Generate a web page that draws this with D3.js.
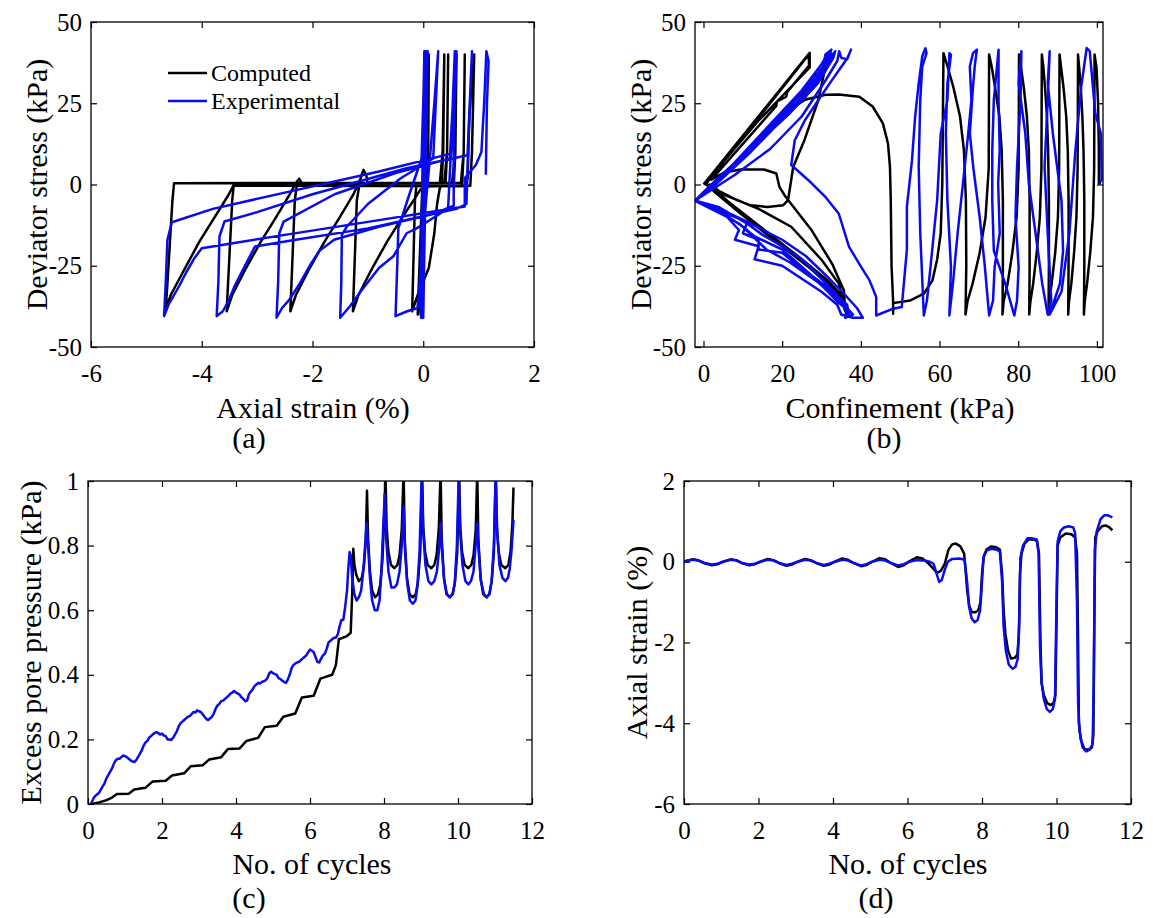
<!DOCTYPE html>
<meta charset="utf-8">
<head>
<meta charset="utf-8">
<script src="https://d3js.org/d3.v7.min.js"></script>
<style>
  body { margin: 0; background: #fff; }
  text { font-family: "Liberation Serif", "DejaVu Serif", serif; fill: #000; }
  .tick text { font-size: 25px; }
  .tick line { stroke: #000; stroke-width: 1.2; }
  .ttl { font-size: 30px; }
</style>
</head>
<body>
<svg id="fig" width="1153" height="918"></svg>
<script>

// ---------- (a) deviator stress vs axial strain ----------
var aComputed = [
  [0,0],[0.02,40],[-0.03,-39],[0.04,40],[-0.06,-39],[0.07,40],[-0.1,-40],[0.1,40],
  [0.09,10],[0.05,0.5],[-0.12,0.3],[-0.15,-5],[-0.2,-39],[-0.1,-34],[0.1,-25.7],[0.2,-15],[0.25,-6],[0.3,-1],[0.33,-0.5],[0.36,10],[0.38,40],
  [0.35,10],[0.3,0.5],[-1.15,0.3],[-1.2,-5],[-1.27,-39],[-1.17,-34],[-0.92,-25.7],[-0.65,-17.5],[-0.39,-10.4],[-0.16,-4.5],[-0.05,-1.5],[0.1,-0.6],[0.4,-0.5],[0.43,10],[0.45,40],
  [0.43,10],[0.38,0.5],[-2.28,0.3],[-2.32,-5],[-2.4,-39],[-2.3,-34],[-2.05,-25.7],[-1.78,-17.5],[-1.52,-10.4],[-1.27,-3.3],[-1.15,1],[-1.08,4.5],[-1.03,3],[-1.0,-0.3],[0.55,-0.5],[0.58,10],[0.6,40],
  [0.58,10],[0.52,0.5],[-3.42,0.3],[-3.45,-5],[-3.55,-39],[-3.45,-34],[-3.2,-25.7],[-2.93,-17.5],[-2.67,-10.4],[-2.42,-3.3],[-2.3,0.5],[-2.24,1.8],[-2.2,0.5],[-2.15,-0.4],[0.7,-0.5],[0.73,10],[0.75,40],
  [0.73,10],[0.68,0.5],[-4.5,0.4],[-4.53,-5],[-4.6,-25],[-4.65,-38.5],[-4.56,-34],[-4.3,-25.7],[-4.04,-17.5],[-3.78,-10.4],[-3.52,-3.3],[-3.42,0],[-3.35,-0.4],[0.85,-0.4],[0.88,10],[0.92,40],[0.86,28],[0.83,20],[0.8,1.5]
];
var aExperimental = [
  [0,0],[0.03,41],[-0.02,-40],[0.05,41],[-0.04,-41],[0.06,40],[-0.03,-41],[0.02,41],[-0.05,-40],[0.08,41],[0.0,-41],[0.04,41],
  [0.0,25],[-0.03,8],[-0.25,-3],[-0.45,-13.5],[-0.47,-25],[-0.5,-40.5],[-0.29,-39],[-0.1,-38],[-0.02,-20],[0.05,-5],[0.12,8],[0.2,25],[0.27,41],
  [0.24,30],[0.18,8],[-0.4,2],[-1.0,-6],[-1.38,-13],[-1.47,-15.5],[-1.48,-30],[-1.5,-41],[-1.32,-37.4],[-1.13,-32.9],[-0.8,-25.7],[-0.54,-22.1],[-0.3,-15],[-0.12,-13.5],[0.3,-9],[0.45,-7],[0.5,10],[0.54,28],[0.57,41],
  [0.55,30],[0.48,8],[-0.5,3.5],[-1.6,-3],[-2.52,-11.4],[-2.6,-15],[-2.62,-30],[-2.65,-41],[-2.55,-38],[-2.42,-35.5],[-2.25,-31],[-2.05,-25],[-1.88,-20.5],[-1.61,-17],[-0.8,-13],[0.2,-9],[0.6,-7.5],[0.78,-6],[0.82,15],[0.86,32],[0.88,41],
  [0.86,33],[0.8,9],[-0.3,5],[-2,-3],[-3.0,-8.5],[-3.59,-11.4],[-3.68,-16],[-3.7,-30],[-3.73,-40.5],[-3.62,-39],[-3.52,-36],[-3.4,-31],[-3.25,-26],[-3.04,-19.1],[-2.3,-17],[-1,-13.5],[0.2,-9],[0.55,-6.5],[0.55,10],[0.57,30],[0.6,41],
  [0.58,30],[0.5,9.5],[-0.8,4],[-2.5,-2.5],[-3.8,-7.5],[-4.54,-11.6],[-4.62,-17],[-4.65,-30],[-4.68,-40.5],[-4.6,-37],[-4.5,-34],[-4.4,-31],[-4.28,-27],[-4.13,-22.6],[-4.0,-19.6],[-2.5,-15.5],[-1.0,-11.5],[0.3,-8],[0.75,-6.8],[0.75,2],[0.95,6],[1.05,10],[1.1,25],[1.14,41],[1.18,38],[1.15,25],[1.13,3]
];

// ---------- (b) deviator stress vs confinement ----------
var bComputed = [
  [0,0],[27,40.5],[27,36],[13.5,19],[0.5,0.5],
  [3,-2.5],[9.4,-8.9],[18,-17.2],[26.7,-25.4],[32.7,-31.6],[35.5,-35.5],[36.2,-39.5],
  [34.4,-30.5],[30.1,-23.3],[22.3,-13],[14,-7.5],[5,-3],[0.5,0],
  [26.8,40],[26.8,36.5],[21.3,28.5],[21,27],[18.7,25.6],[18.5,24.2],[2,1.5],
  [5.1,3.6],[9.4,4.6],[15.4,4.6],[18.5,3.4],[19.3,-0.7],[20.6,-3.3],[21.5,-4.8],[20.2,-6.4],[16.3,-6.9],[12,-6.4],[8.5,-4.8],[4,-2],[1.5,0],
  [6,-5],[15,-13.5],[25,-23],[32,-30],[35,-34],[36,-39],
  [35.7,-32.6],[32.7,-24.4],[27.5,-14.1],[21.5,-4.8],[22.8,5.4],[25.7,13.8],[29.2,26],[31,36.3],[31.5,40],
  [31.2,37],[27,30],[23.5,25],[20.6,21.9],[25.8,26.1],[31,27.6],[34.4,27.7],[39.6,27],[43,24],[45.6,18.8],[46.9,12.6],[47.4,5.4],[47.6,-4.8],[47.8,-25],[48.2,-36],[48.2,-39.8],[48.2,-36.5],
  [52.5,-35.7],[56,-33.6],[58.2,-29.5],[59.4,-23],[60.3,-15],[60.7,0.3],[61,40.4],
  [62.1,36],[63.5,30],[65.2,21],[66.2,10.5],[66.7,-5],[66.8,-25],[66.6,-40],
  [67.1,-36],[68.4,-30.5],[70.2,-21],[71.7,-10],[72.5,5],[72.6,40],
  [73.3,36],[74.1,30],[75.2,21],[75.8,10.5],[76.1,-5],[76.1,-25],[76,-40],
  [76.3,-36],[77.3,-30.5],[78.5,-21],[79.6,-10],[80.1,5],[80.2,40],
  [80.7,36],[81.4,30],[82.2,21],[82.7,10.5],[82.9,-5],[82.9,-25],[82.8,-40],
  [83.1,-36],[83.8,-30.5],[84.7,-21],[85.5,-10],[85.9,5],[86,40],
  [86.4,36],[86.8,30],[87.3,21],[87.6,10.5],[87.8,-5],[87.8,-25],[87.7,-40],
  [87.9,-36],[88.5,-30.5],[89.4,-21],[90.1,-10],[90.4,5],[90.5,40],
  [90.9,36],[91.5,30],[92.2,21],[92.6,10.5],[92.8,-5],[92.8,-25],[92.7,-40],
  [92.9,-36],[93.5,-30.5],[94.2,-21],[94.8,-10],[95.1,5],[95.2,40],
  [95.5,36],[95.9,30],[96.3,21],[96.6,10.5],[96.8,-5],[96.8,-25],[96.7,-40],
  [96.9,-36],[97.5,-30.5],[98.3,-21],[99,-10],[99.3,5],[99.4,40],
  [99.9,36],[100.3,25],[100.5,10],[100.5,0.3],[101,0.5]
];
var bExperimental = [
  [-2.2,-5],[5,3],[15,16],[25,29],[30,37],[32,41],[32.5,40],[29,33],[20,22],[10,9],[2,0],[-2.2,-5],
  [5,-8.5],[10,-11],[15,-15.5],[20,-19],[25,-23],[30,-29],[34,-34],[36,-38.5],[37,-40],[36.5,-37],[33,-33],[28,-28.5],[20,-20],[13,-16],[9,-12],[3,-8],[-2.2,-5],
  [6,4],[14,13],[22,22],[29,31],[33,39],[33.5,41],[32.8,40],[30,34],[26,27],[20,20],[12,10],[4,1],[-2,-5],
  [4,-7],[11,-12],[10,-15],[14,-17],[14,-20],[20,-21],[25,-26],[30,-31],[34,-36],[37,-39],[36,-41],[38,-40],[35,-36],[29,-30],[22,-24],[16,-20],[10,-13],[4,-8],[-2.2,-5],
  [4,2],[12,11],[20,21],[26,28],[30,34],[31,40],[32.5,41.5],[31.5,38],[27,31],[18,19],[9,7],[1,-2],[-2.2,-5],
  [6,-10],[9,-14],[8,-17],[14,-19],[13,-23],[20,-25],[25,-29],[30,-33],[34,-37],[35,-40],[38,-41],[40.5,-41],[39,-38],[36,-34],[32,-29],[26,-22],[20,-17],[12,-12],[5,-8],[-2.2,-5],
  [8,3],[17,11],[25,21],[31,32],[34,38],[34.5,41],[35,39],[36.5,38.5],[37.5,41.5],
  [36.6,38.9],[32.7,32.2],[29.2,26],[25.8,19.8],[23.2,13.6],[22.3,6],[26.6,1.4],[30.9,-3.7],[34.4,-9],[37,-19.2],[39.6,-24.4],[42.2,-29.5],[43.9,-34.6],[43.9,-40.3],[48.2,-38.2],[50.4,-37.7],
  [51.7,-20],[51.7,-6.9],[53,7.5],[53.8,20.9],[54.7,31],[55.6,39.4],[56.4,41.9],[56.7,40.4],[55.6,36.3],[55.1,26],[54.7,5.4],[55.1,-15],[56,-40.3],
  [56.8,-35.7],[57.7,-25.4],[59.4,-4.8],[60.3,15.7],[62,26],[62.5,40.4],[62.9,39.9],[62,31.2],[61.6,15.7],[62,-4.8],[62.9,-25.4],[62.5,-40.3],
  [63.4,-30.5],[64.6,-15],[66.4,5.4],[67.3,15.7],[68.1,26],[67.7,36.3],[68.5,40.4],[69.5,41.5],[69,37],[68.5,30],[67.7,15.7],[68.6,5],[70.2,-10],[71.5,-25],[72.6,-40.3],
  [73.6,-35.7],[74,-25.4],[75.3,-15],[74.9,0.3],[75.3,10.5],[75,26],[75,41.5],[74.6,36.3],[73.8,26],[73.4,10.5],[73.4,-5],[73.8,-20.4],[76.7,-30.5],[79,-40.3],
  [79.7,-35.7],[80.1,-25.4],[79.3,-10],[79.7,5.4],[80.6,26],[80.8,41],[80.1,31.2],[81.8,15.7],[82.7,0.3],[84.4,-15],[86.1,-30.5],[87.5,-40],
  [88.4,-35.7],[87.5,-15],[86.7,5.4],[87.5,26],[88,41],[87.5,31.2],[88.8,15.7],[91,-5],[91.4,-20.4],[90.6,-30.5],[88,-40],
  [91,-33],[93,-15],[94.5,10],[96,30],[97.4,42],[98.2,41],[98.3,39.4],[99.6,21.9],[101,15.7],[101.2,1.5],[100.6,0.3]
];

// ---------- (c) excess pore pressure vs cycles ----------
var cComputed = [
  [0.1,0],[0.3,0.005],[0.5,0.012],[0.65,0.02],[0.78,0.031],[1.1,0.032],[1.25,0.045],[1.55,0.05],[1.75,0.07],[2.1,0.072],
  [2.27,0.088],[2.6,0.095],[2.78,0.117],[3.1,0.12],[3.28,0.138],[3.6,0.145],[3.78,0.17],[4.1,0.172],[4.28,0.195],[4.6,0.205],
  [4.78,0.238],[5.1,0.242],[5.28,0.27],[5.6,0.28],[5.78,0.33],[6.1,0.335],[6.28,0.388],[6.6,0.4],[6.7,0.43],[6.78,0.51],[7.0,0.52],
  [7.1,0.53],[7.14,0.65],[7.17,0.79],[7.2,0.74],[7.25,0.71],[7.32,0.69],[7.4,0.7],[7.46,0.74],[7.51,0.82],[7.54,0.97],
  [7.57,0.82],[7.62,0.72],[7.68,0.66],[7.76,0.64],[7.84,0.65],[7.9,0.68],[7.96,0.76],[8.01,0.9],[8.04,1.03],
  [8.07,0.86],[8.12,0.78],[8.19,0.74],[8.28,0.73],[8.36,0.74],[8.42,0.77],[8.48,0.85],[8.53,1.03],
  [8.56,0.82],[8.62,0.7],[8.69,0.65],[8.78,0.64],[8.86,0.65],[8.92,0.69],[8.98,0.78],[9.03,1.03],
  [9.06,0.86],[9.11,0.78],[9.18,0.74],[9.28,0.73],[9.36,0.74],[9.42,0.77],[9.48,0.85],[9.53,1.03],
  [9.56,0.82],[9.62,0.7],[9.69,0.65],[9.78,0.64],[9.86,0.65],[9.92,0.69],[9.98,0.78],[10.03,1.03],
  [10.06,0.86],[10.11,0.78],[10.18,0.74],[10.28,0.73],[10.36,0.74],[10.42,0.77],[10.48,0.85],[10.52,1.03],
  [10.55,0.82],[10.61,0.7],[10.68,0.65],[10.77,0.64],[10.85,0.65],[10.91,0.69],[10.97,0.78],[11.02,1.03],
  [11.05,0.86],[11.1,0.78],[11.17,0.74],[11.28,0.73],[11.36,0.74],[11.42,0.78],[11.47,0.87],[11.5,0.98]
];
var cExperimental = [
  [0.08,0],[0.12,0.01],[0.16,0.02],[0.2,0.025],[0.25,0.03],[0.3,0.035],[0.35,0.045],[0.4,0.055],[0.45,0.065],[0.5,0.08],
  [0.55,0.09],[0.6,0.1],[0.65,0.11],[0.7,0.125],[0.75,0.135],[0.8,0.14],[0.85,0.14],[0.9,0.145],[0.95,0.15],[1.0,0.148],
  [1.05,0.145],[1.1,0.14],[1.15,0.135],[1.2,0.132],[1.25,0.13],[1.3,0.135],[1.35,0.145],[1.4,0.155],[1.45,0.165],[1.5,0.18],
  [1.55,0.19],[1.6,0.195],[1.65,0.205],[1.7,0.21],[1.75,0.215],[1.8,0.22],[1.85,0.222],[1.9,0.22],[1.95,0.215],[2.0,0.218],
  [2.05,0.212],[2.1,0.21],[2.15,0.2],[2.2,0.2],[2.25,0.198],[2.3,0.205],[2.35,0.215],[2.4,0.225],[2.45,0.24],[2.5,0.25],
  [2.55,0.255],[2.6,0.26],[2.65,0.265],[2.7,0.27],[2.75,0.272],[2.8,0.278],[2.85,0.285],[2.9,0.283],[2.95,0.29],[3.0,0.287],
  [3.05,0.285],[3.1,0.278],[3.15,0.27],[3.2,0.263],[3.25,0.26],[3.3,0.265],[3.35,0.27],[3.4,0.28],[3.45,0.295],[3.5,0.305],
  [3.55,0.31],[3.6,0.318],[3.65,0.32],[3.7,0.325],[3.75,0.33],[3.8,0.335],[3.85,0.342],[3.9,0.345],[3.95,0.35],[4.0,0.345],
  [4.05,0.342],[4.1,0.338],[4.15,0.33],[4.2,0.325],[4.25,0.318],[4.3,0.32],[4.35,0.34],[4.4,0.348],[4.45,0.355],[4.5,0.365],
  [4.55,0.37],[4.6,0.375],[4.65,0.373],[4.7,0.378],[4.75,0.38],[4.8,0.383],[4.85,0.39],[4.9,0.405],[4.95,0.41],[5.0,0.405],
  [5.05,0.402],[5.1,0.4],[5.15,0.39],[5.2,0.387],[5.25,0.382],[5.3,0.378],[5.35,0.375],[5.4,0.385],[5.45,0.4],[5.5,0.42],
  [5.55,0.43],[5.6,0.435],[5.65,0.438],[5.7,0.44],[5.75,0.445],[5.8,0.45],[5.85,0.455],[5.9,0.46],[5.95,0.47],[6.0,0.478],
  [6.05,0.475],[6.1,0.47],[6.15,0.455],[6.2,0.44],[6.25,0.438],[6.3,0.45],[6.35,0.46],[6.4,0.465],[6.45,0.48],[6.5,0.5],
  [6.55,0.505],[6.6,0.51],[6.65,0.515],[6.7,0.515],[6.75,0.525],[6.8,0.55],[6.85,0.57],[6.9,0.57],[6.95,0.61],[7.0,0.66],
  [7.03,0.72],[7.07,0.78],[7.1,0.77],[7.14,0.7],[7.2,0.65],[7.26,0.63],[7.32,0.64],[7.38,0.66],[7.44,0.72],[7.49,0.8],[7.53,0.87],
  [7.57,0.8],[7.62,0.7],[7.68,0.63],[7.75,0.6],[7.82,0.6],[7.88,0.63],[7.93,0.72],[7.98,0.86],[8.02,0.96],
  [8.06,0.82],[8.12,0.72],[8.2,0.67],[8.28,0.67],[8.35,0.68],[8.42,0.72],[8.48,0.8],[8.53,0.92],
  [8.57,0.78],[8.63,0.68],[8.7,0.63],[8.78,0.62],[8.85,0.63],[8.9,0.67],[8.96,0.78],[9.02,1.02],
  [9.06,0.84],[9.12,0.74],[9.2,0.69],[9.28,0.68],[9.36,0.69],[9.43,0.72],[9.49,0.79],[9.53,0.87],
  [9.57,0.78],[9.63,0.69],[9.7,0.65],[9.78,0.64],[9.85,0.65],[9.91,0.68],[9.97,0.8],[10.02,1.02],
  [10.06,0.84],[10.12,0.74],[10.2,0.69],[10.28,0.68],[10.35,0.69],[10.42,0.72],[10.47,0.79],[10.52,0.87],
  [10.56,0.78],[10.62,0.69],[10.7,0.65],[10.78,0.64],[10.85,0.65],[10.91,0.69],[10.97,0.8],[11.02,1.02],
  [11.06,0.84],[11.12,0.74],[11.2,0.7],[11.28,0.69],[11.35,0.7],[11.4,0.73],[11.45,0.79],[11.5,0.88]
];

// ---------- (d) axial strain vs cycles ----------
var dComputed = [
  [0,0],[0.1,0.03],[0.25,0.06],[0.4,0.03],[0.55,-0.04],[0.75,-0.09],[0.9,-0.06],[1.05,0.0],[1.25,0.06],[1.4,0.04],
  [1.55,-0.03],[1.75,-0.09],[1.9,-0.06],[2.05,0.0],[2.25,0.07],[2.4,0.04],[2.55,-0.03],[2.75,-0.1],[2.9,-0.07],[3.05,0.0],
  [3.25,0.07],[3.4,0.04],[3.55,-0.03],[3.75,-0.1],[3.9,-0.07],[4.05,0.0],[4.25,0.08],[4.4,0.05],[4.55,-0.03],[4.75,-0.11],
  [4.9,-0.08],[5.05,0.0],[5.25,0.09],[5.4,0.06],[5.55,-0.03],[5.75,-0.13],[5.9,-0.09],[6.05,0.01],[6.25,0.11],[6.4,0.08],
  [6.55,-0.03],[6.7,-0.18],[6.8,-0.28],[6.9,-0.22],[7.0,-0.05],[7.1,0.3],[7.2,0.43],[7.3,0.45],[7.42,0.38],[7.52,0.2],
  [7.56,-0.2],[7.6,-0.7],[7.66,-1.1],[7.73,-1.25],[7.82,-1.25],[7.9,-1.2],[7.96,-1.0],[8.0,-0.3],[8.05,0.15],[8.12,0.3],
  [8.25,0.38],[8.38,0.36],[8.48,0.3],[8.54,-0.3],[8.58,-1.2],[8.63,-1.8],[8.7,-2.2],[8.78,-2.4],[8.88,-2.38],[8.95,-2.3],
  [8.99,-1.8],[9.02,-0.3],[9.06,0.2],[9.14,0.45],[9.25,0.55],[9.4,0.55],[9.48,0.5],[9.53,0.2],[9.57,-2.0],[9.6,-3.0],
  [9.66,-3.3],[9.75,-3.5],[9.85,-3.55],[9.92,-3.5],[9.97,-3.3],[10.0,-1.5],[10.03,0.4],[10.1,0.6],[10.25,0.7],[10.4,0.68],
  [10.5,0.6],[10.55,0.2],[10.58,-2.0],[10.6,-4.0],[10.65,-4.4],[10.75,-4.65],[10.87,-4.65],[10.95,-4.6],[10.99,-4.3],[11.02,-1.0],
  [11.04,0.6],[11.1,0.75],[11.22,0.88],[11.32,0.9],[11.42,0.85],[11.5,0.78]
];
var dExperimental = [
  [0,0],[0.1,0.03],[0.25,0.05],[0.4,0.03],[0.55,-0.03],[0.75,-0.07],[0.9,-0.05],[1.05,0.0],[1.25,0.05],[1.4,0.03],
  [1.55,-0.03],[1.75,-0.07],[1.9,-0.05],[2.05,0.0],[2.25,0.05],[2.4,0.03],[2.55,-0.03],[2.75,-0.08],[2.9,-0.05],[3.05,0.0],
  [3.25,0.05],[3.4,0.03],[3.55,-0.03],[3.75,-0.08],[3.9,-0.05],[4.05,0.0],[4.25,0.05],[4.4,0.03],[4.55,-0.03],[4.75,-0.09],
  [4.9,-0.06],[5.05,0.0],[5.25,0.05],[5.4,0.03],[5.55,-0.03],[5.75,-0.09],[5.9,-0.06],[6.05,0.0],[6.25,0.04],[6.45,0.03],
  [6.6,0.0],[6.7,-0.05],[6.8,-0.35],[6.85,-0.5],[6.92,-0.45],[7.0,-0.2],[7.08,0.0],[7.2,0.07],[7.4,0.08],[7.53,0.05],
  [7.6,-0.5],[7.65,-1.1],[7.72,-1.4],[7.8,-1.5],[7.88,-1.45],[7.95,-1.2],[8.0,-0.5],[8.04,0.1],[8.12,0.28],[8.25,0.32],
  [8.4,0.3],[8.48,0.25],[8.54,-0.5],[8.58,-1.6],[8.64,-2.2],[8.72,-2.55],[8.82,-2.65],[8.9,-2.6],[8.96,-2.4],[9.0,-1.5],
  [9.03,0.1],[9.1,0.4],[9.22,0.58],[9.35,0.58],[9.47,0.55],[9.52,0.2],[9.56,-2.2],[9.6,-3.0],[9.66,-3.4],[9.74,-3.65],
  [9.82,-3.72],[9.9,-3.65],[9.96,-3.4],[10.0,-1.0],[10.03,0.5],[10.1,0.75],[10.2,0.85],[10.33,0.88],[10.45,0.85],[10.5,0.7],
  [10.55,-1.0],[10.58,-3.5],[10.62,-4.2],[10.7,-4.6],[10.8,-4.7],[10.9,-4.65],[10.97,-4.5],[11.0,-3.0],[11.03,0.3],[11.08,0.75],
  [11.18,1.05],[11.28,1.15],[11.38,1.15],[11.5,1.1]
];

var seriesNames = ["Computed", "Experimental"];
var seriesColors = ["#000000", "#0a0af0"];
var serif = "'Liberation Serif', 'DejaVu Serif', serif";

var svg = d3.select("#fig");

function panel(o) {
  var x = d3.scaleLinear().domain(o.xd).range([o.x0, o.x1]);
  var y = d3.scaleLinear().domain(o.yd).range([o.y1, o.y0]);
  var g = svg.append("g");
  var fmt = function(d) { return String(d); };

  g.append("clipPath").attr("id", "clip" + o.name)
    .append("rect")
      .attr("x", o.x0).attr("y", o.y0)
      .attr("width", o.x1 - o.x0).attr("height", o.y1 - o.y0);

  var ax = [
    [d3.axisBottom(x).tickValues(o.xt).tickFormat(fmt).tickPadding(17), "translate(0," + o.y1 + ")"],
    [d3.axisTop(x).tickValues(o.xt).tickFormat(""), "translate(0," + o.y0 + ")"],
    [d3.axisLeft(y).tickValues(o.yt).tickFormat(fmt).tickPadding(9), "translate(" + o.x0 + ",0)"],
    [d3.axisRight(y).tickValues(o.yt).tickFormat(""), "translate(" + o.x1 + ",0)"]
  ];
  ax.forEach(function(a) {
    var ga = g.append("g").attr("transform", a[1])
      .call(a[0].tickSizeInner(-6).tickSizeOuter(0));
    ga.attr("font-size", null).attr("font-family", null);
    ga.select(".domain").remove();
    ga.selectAll("text").style("font-family", serif).style("font-size", "25px");
  });

  var line = d3.line().x(function(d) { return x(d[0]); }).y(function(d) { return y(d[1]); });
  var lg = g.append("g").attr("clip-path", "url(#clip" + o.name + ")");
  o.series.forEach(function(s, i) {
    lg.append("path")
      .attr("d", line(s))
      .attr("fill", "none")
      .attr("stroke", seriesColors[i])
      .attr("stroke-width", 2.5)
      .attr("stroke-linejoin", "round");
  });

  g.append("rect")
    .attr("x", o.x0).attr("y", o.y0)
    .attr("width", o.x1 - o.x0).attr("height", o.y1 - o.y0)
    .attr("fill", "none").attr("stroke", "#000").attr("stroke-width", 1.3);

  // axis titles
  g.append("text").attr("class", "ttl")
    .attr("text-anchor", "middle")
    .attr("x", o.xtx).attr("y", o.xty)
    .style("font-family", serif)
    .text(o.xlabel);
  g.append("text").attr("class", "ttl")
    .attr("text-anchor", "middle")
    .attr("transform", "translate(" + o.ytx + "," + ((o.y0 + o.y1) / 2) + ") rotate(-90)")
    .attr("dy", "0.35em")
    .style("font-family", serif)
    .text(o.ylabel);
  g.append("text").attr("class", "ttl")
    .attr("text-anchor", "middle")
    .attr("x", o.tagx).attr("y", o.tagy)
    .style("font-family", serif)
    .text(o.tag);

  return {x: x, y: y, g: g};
}

var pa = panel({
  name: "a", x0: 91, x1: 534, y0: 22, y1: 347,
  xd: [-6, 2], yd: [-50, 50], xt: [-6, -4, -2, 0, 2], yt: [-50, -25, 0, 25, 50],
  series: [aComputed, aExperimental],
  xlabel: "Axial strain (%)", xtx: 313, xty: 418,
  ylabel: "Deviator stress (kPa)", ytx: 36,
  tag: "(a)", tagx: 249, tagy: 448
});

panel({
  name: "b", x0: 695, x1: 1103, y0: 22, y1: 347,
  xd: [-2.16, 101.55], yd: [-50, 50], xt: [0, 20, 40, 60, 80, 100], yt: [-50, -25, 0, 25, 50],
  series: [bComputed, bExperimental],
  xlabel: "Confinement (kPa)", xtx: 900, xty: 418,
  ylabel: "Deviator stress (kPa)", ytx: 640,
  tag: "(b)", tagx: 884, tagy: 448
});

panel({
  name: "c", x0: 88, x1: 532, y0: 481, y1: 804,
  xd: [0, 12], yd: [0, 1], xt: [0, 2, 4, 6, 8, 10, 12], yt: [0, 0.2, 0.4, 0.6, 0.8, 1],
  series: [cComputed, cExperimental],
  xlabel: "No. of cycles", xtx: 312, xty: 874,
  ylabel: "Excess pore pressure (kPa)", ytx: 30,
  tag: "(c)", tagx: 249, tagy: 908
});

panel({
  name: "d", x0: 684, x1: 1131, y0: 481, y1: 804,
  xd: [0, 12], yd: [-6, 2], xt: [0, 2, 4, 6, 8, 10, 12], yt: [-6, -4, -2, 0, 2],
  series: [dComputed, dExperimental],
  xlabel: "No. of cycles", xtx: 908, xty: 874,
  ylabel: "Axial strain (%)", ytx: 636,
  tag: "(d)", tagx: 876, tagy: 908
});

// legend in (a)
var legY = [73, 101];
seriesNames.forEach(function(n, i) {
  pa.g.append("line")
    .attr("x1", 168).attr("x2", 207)
    .attr("y1", legY[i]).attr("y2", legY[i])
    .attr("stroke", seriesColors[i]).attr("stroke-width", 2.5);
  pa.g.append("text")
    .attr("x", 211).attr("y", legY[i]).attr("dy", "0.33em")
    .style("font-family", serif).style("font-size", "24px")
    .text(n);
});

</script>
</body>
